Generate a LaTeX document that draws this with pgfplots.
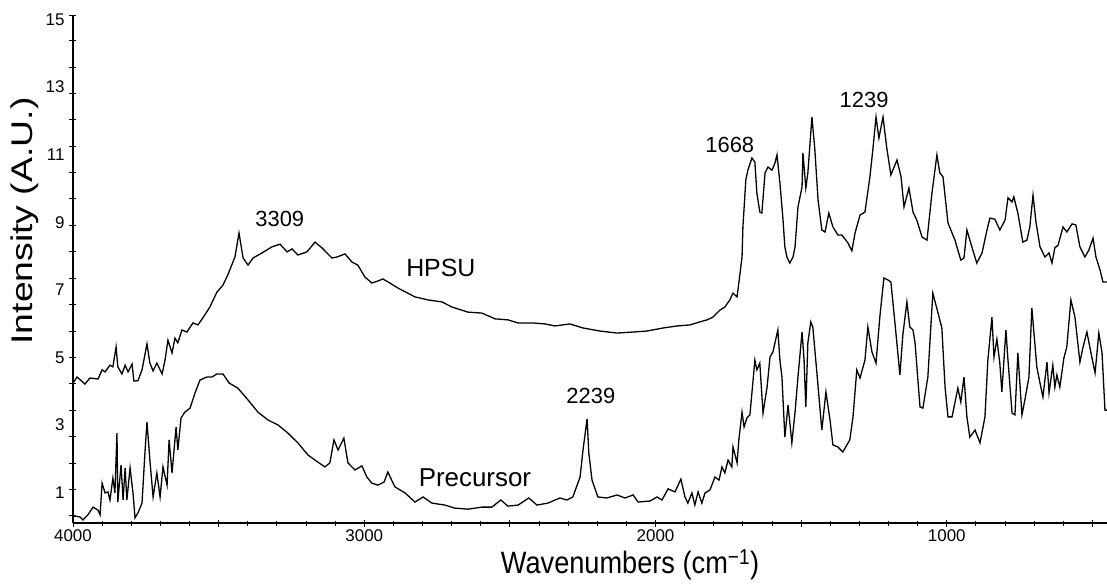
\documentclass[border=0pt]{standalone}
\usepackage{fontspec}
\setmainfont{Liberation Sans}
\usepackage{graphicx}
\usepackage{pgfplots}
\pgfplotsset{compat=1.18}
\usetikzlibrary{calc}

\begin{document}
\begin{tikzpicture}
\begin{axis}[
    scale only axis,
    width=1034bp, height=508bp,
    x dir=reverse,
    xmin=450, xmax=4000,
    ymin=0.1, ymax=15.13,
    axis x line*=bottom,
    axis y line*=left,
    axis line style={line width=1.6bp},
    xtick={500,1000,...,4000},
    xticklabels={{},1000,{},2000,{},3000,{},4000},
    minor x tick num=4,
    ytick={0.31,1.09,1.87,2.65,3.43,4.22,5.00,5.78,6.56,7.34,8.12,8.90,9.69,10.47,11.25,12.03,12.81,13.59,14.37,15.13},
    yticklabels={},
    extra y ticks={1,3,5,7,9,11,13,15},
    extra y tick style={major tick length=0pt, tick style={draw=none}},
    tick align=center,
    major tick length=7bp,
    minor tick length=5bp,
    tick style={black, line width=0.9bp},
    /pgf/number format/assume math mode=true,
    tick label style={font=\fontsize{17}{20}\selectfont},
    yticklabel style={xshift=-5bp},
    clip=false,
]

% HPSU
\addplot[black, line width=1.3bp] table {
4000 4.24
3986 4.42
3959 4.21
3942 4.39
3914 4.36
3900 4.63
3890 4.57
3873 4.77
3863 4.72
3852 5.31
3846 4.72
3832 4.51
3821 4.77
3811 4.57
3797 4.80
3791 4.30
3777 4.31
3763 4.63
3746 5.40
3736 4.83
3725 4.60
3712 4.83
3694 4.51
3684 4.92
3674 5.51
3660 5.13
3650 5.57
3640 5.43
3626 5.81
3609 5.75
3588 6.02
3571 5.96
3554 6.17
3530 6.49
3506 6.93
3485 7.14
3468 7.45
3444 7.97
3430 8.68
3416 7.94
3399 7.73
3382 7.94
3351 8.09
3317 8.27
3289 8.35
3265 8.12
3248 8.21
3228 8.03
3197 8.12
3169 8.41
3145 8.24
3111 7.94
3094 7.97
3066 8.06
3042 7.82
3022 7.73
2998 7.38
2974 7.20
2953 7.26
2936 7.32
2912 7.20
2884 7.05
2826 6.79
2781 6.70
2733 6.64
2699 6.49
2644 6.34
2596 6.31
2551 6.14
2507 6.11
2472 6.02
2424 6.02
2380 5.99
2345 5.93
2294 5.99
2249 5.87
2191 5.78
2132 5.72
2077 5.75
2029 5.78
1974 5.87
1926 5.93
1882 5.96
1848 6.05
1823 6.11
1803 6.19
1779 6.40
1762 6.49
1745 6.70
1734 6.90
1720 6.79
1714 7.20
1703 7.97
1700 8.86
1690 10.25
1683 10.54
1669 10.90
1659 10.78
1652 9.86
1642 9.30
1635 9.27
1624 10.46
1614 10.63
1600 10.54
1590 10.75
1583 10.99
1573 10.16
1563 9.15
1556 8.27
1549 7.97
1539 7.79
1528 7.97
1521 8.27
1511 9.45
1497 10.04
1494 11.05
1484 10.01
1477 10.46
1463 12.11
1453 11.14
1442 9.66
1429 8.77
1418 8.71
1405 9.27
1391 8.86
1374 8.62
1360 8.62
1339 8.38
1326 8.15
1315 8.68
1298 9.21
1281 9.30
1264 10.34
1254 11.14
1243 12.11
1233 11.49
1219 12.11
1206 11.19
1192 10.40
1171 10.84
1157 10.34
1147 9.45
1130 10.01
1116 9.30
1103 9.06
1085 8.56
1068 8.47
1051 9.86
1034 10.99
1024 10.46
1013 10.34
996 8.98
972 8.47
952 7.88
941 7.94
931 8.77
914 8.27
897 7.79
879 8.09
862 8.77
852 9.12
835 9.09
818 8.77
800 9.06
790 9.72
776 9.60
770 9.75
756 9.27
739 8.41
725 8.47
715 8.86
704 9.80
694 9.01
680 8.27
663 7.97
649 8.09
639 7.79
629 8.24
618 8.32
601 8.86
588 8.71
570 8.95
557 8.92
543 8.27
526 7.97
512 8.18
498 8.53
488 7.97
474 7.59
464 7.23
450 7.23
};

% Precursor
\addplot[black, line width=1.3bp] table {
4000 0.31
3976 0.28
3966 0.19
3949 0.34
3931 0.57
3914 0.48
3907 0.34
3900 1.28
3890 0.99
3880 1.02
3873 0.78
3863 1.43
3856 0.99
3849 2.76
3846 0.72
3835 1.82
3828 0.78
3821 1.73
3815 0.78
3804 1.73
3794 0.99
3787 0.25
3777 0.40
3763 0.69
3753 2.17
3746 3.09
3736 1.96
3725 0.87
3712 1.58
3701 0.87
3691 1.76
3677 1.22
3670 2.56
3660 1.58
3646 2.94
3640 2.26
3629 3.21
3616 3.38
3598 3.50
3581 3.95
3564 4.33
3540 4.42
3523 4.42
3506 4.51
3485 4.51
3464 4.24
3434 4.09
3399 3.74
3365 3.38
3331 3.15
3296 3.00
3262 2.76
3228 2.47
3193 2.11
3159 1.90
3135 1.76
3118 1.88
3104 2.56
3090 2.26
3070 2.61
3056 1.88
3032 1.67
3008 1.79
2991 1.46
2974 1.28
2953 1.22
2932 1.31
2919 1.61
2895 1.17
2860 0.99
2826 0.72
2798 0.87
2768 0.69
2723 0.63
2689 0.54
2644 0.51
2596 0.57
2562 0.57
2531 0.78
2507 0.60
2472 0.63
2435 0.84
2407 0.63
2369 0.69
2345 0.78
2328 0.84
2304 0.78
2284 0.87
2259 1.46
2249 2.26
2235 3.18
2229 2.17
2218 1.37
2198 0.87
2167 0.84
2132 0.93
2105 0.84
2077 0.93
2060 0.72
2019 0.75
1995 0.87
1978 0.78
1957 1.11
1933 1.02
1913 1.40
1899 0.87
1889 0.69
1875 0.99
1865 0.63
1854 1.02
1841 0.69
1830 0.99
1813 1.08
1796 1.46
1782 1.37
1772 1.76
1762 1.58
1751 1.96
1738 1.76
1734 2.35
1720 1.88
1714 2.56
1703 3.38
1696 2.94
1686 3.21
1676 3.30
1666 4.24
1659 4.92
1652 4.63
1642 4.83
1631 3.35
1617 4.12
1607 5.01
1597 5.16
1580 5.81
1573 4.92
1566 4.42
1556 2.64
1545 3.59
1532 2.47
1521 3.38
1511 4.42
1497 5.75
1490 4.92
1484 3.53
1477 5.43
1467 6.05
1460 5.90
1446 4.54
1429 2.85
1415 3.98
1401 3.15
1391 2.41
1374 2.35
1357 2.20
1333 2.56
1322 3.24
1309 4.63
1298 4.39
1281 4.92
1271 5.90
1257 5.16
1243 4.83
1230 6.19
1216 7.35
1202 7.29
1192 7.23
1178 6.02
1161 4.48
1151 5.66
1137 6.64
1127 5.90
1116 5.81
1109 5.43
1092 3.53
1082 3.50
1065 4.42
1048 6.90
1030 6.31
1017 5.87
1006 4.12
996 3.24
982 3.24
962 4.09
952 3.68
941 4.42
931 3.24
921 2.64
903 2.85
886 2.47
869 3.24
859 4.92
845 6.19
838 5.01
828 5.54
818 4.83
811 3.98
797 5.81
790 4.92
776 3.35
766 3.30
756 5.13
742 3.30
732 3.74
718 4.42
708 6.46
691 4.72
680 4.24
670 3.83
656 4.86
649 3.95
636 4.77
629 4.12
622 4.48
612 4.12
598 4.98
588 5.31
574 6.70
560 6.19
543 4.86
533 5.28
519 5.75
505 5.13
491 4.54
478 5.72
467 5.13
457 3.44
450 3.44
};

\node[font=\fontsize{22}{26}\selectfont] at (axis cs:3290,9.09) {3309};
\node[font=\fontsize{22}{26}\selectfont] at (axis cs:1745,11.28) {1668};
\node[font=\fontsize{22}{26}\selectfont] at (axis cs:1284,12.61) {1239};
\node[font=\fontsize{22}{26}\selectfont] at (axis cs:2222,3.86) {2239};
\node[font=\fontsize{25}{30}\selectfont] at (axis cs:2737,7.64) {HPSU};
\node[font=\fontsize{26}{31}\selectfont] at (axis cs:2620,1.43) {Precursor};
\end{axis}

\node[rotate=90, font=\fontsize{30}{36}\selectfont] at ($(current axis.south west)+(-48bp,302bp)$) {\scalebox{1.25}[1]{Intensity (A.U.)}};
\node[font=\fontsize{31}{37}\selectfont] at ($(current axis.south)+(40bp,-42bp)$) {\scalebox{0.88}[1]{Wavenumbers (cm\textsuperscript{−1})}};

\pgfresetboundingbox
\path[use as bounding box] ($(current axis.south west)+(-73bp,-61bp)$) rectangle ($(current axis.north east)+(0bp,15bp)$);
\end{tikzpicture}
\end{document}
